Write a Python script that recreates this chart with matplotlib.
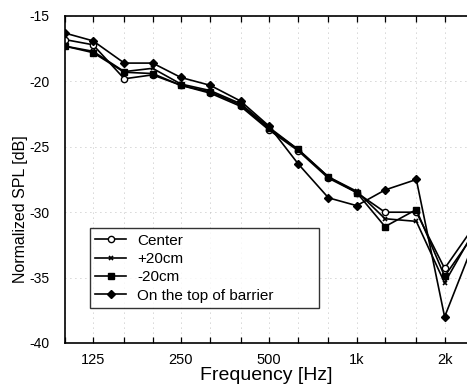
import matplotlib
matplotlib.use("Agg")
import matplotlib.pyplot as plt
from matplotlib.ticker import FixedLocator, NullFormatter

plt.rcParams["font.family"] = ["Liberation Sans", "DejaVu Sans"]

# 1/3-octave band centre frequencies [Hz]
freqs = [100, 125, 160, 200, 250, 315, 400, 500, 630, 800, 1000, 1250, 1600, 2000, 2500]

# Normalized SPL [dB] per microphone position
center = [-16.8, -17.2, -19.8, -19.5, -20.3, -20.9, -21.9, -23.7, -25.3, -27.4,
          -28.5, -30.0, -30.0, -34.3, -31.2]
plus20 = [-17.3, -17.7, -19.25, -19.0, -20.2, -20.7, -21.7, -23.5, -25.2, -27.3,
          -28.4, -30.5, -30.7, -35.4, -31.6]
minus20 = [-17.3, -17.8, -19.3, -19.4, -20.3, -20.8, -21.8, -23.6, -25.2, -27.3,
           -28.5, -31.1, -29.8, -34.9, -31.8]
top_barrier = [-16.3, -16.9, -18.6, -18.6, -19.7, -20.3, -21.5, -23.4, -26.3, -28.9,
               -29.5, -28.3, -27.5, -38.0, -32.5]

tick_freqs = [125, 250, 500, 1000, 2000]
tick_labels = ["125", "250", "500", "1k", "2k"]

W, H = 467, 386
fig = plt.figure(figsize=(W / 100, H / 100), dpi=100)
left, right, top, bottom = 64.7, 467, 16, 343
ax = fig.add_axes([left / W, (H - bottom) / H, (right - left) / W, (bottom - top) / H])

ax.set_xscale("log")
ax.set_xlim(100, 2386)
ax.set_ylim(-40, -15)

style = dict(color="black", linewidth=1.2)
ax.plot(freqs, center, marker="o", markersize=4.5, markerfacecolor="white",
        markeredgewidth=1.0, label="Center", **style)
ax.plot(freqs, plus20, marker="x", markersize=3.5, markeredgewidth=1.2,
        label="+20cm", **style)
ax.plot(freqs, minus20, marker="s", markersize=4.5, label="-20cm", **style)
ax.plot(freqs, top_barrier, marker="D", markersize=4.5, label="On the top of barrier", **style)

# axes decoration
ax.xaxis.set_major_locator(FixedLocator(tick_freqs))
ax.set_xticklabels(tick_labels)
ax.xaxis.set_minor_locator(FixedLocator(freqs))
ax.xaxis.set_minor_formatter(NullFormatter())
ax.set_yticks([-40, -35, -30, -25, -20, -15])
ax.set_yticklabels(["-40", "-35", "-30", "-25", "-20", "-15"])
ax.tick_params(axis="both", which="both", direction="in", top=True, length=4,
               width=0.9, labelsize=10.5)
ax.tick_params(axis="y", which="major", length=0, labelsize=10)
ax.tick_params(axis="x", which="major", pad=7)
ax.tick_params(axis="y", which="major", pad=11)

grid = dict(color="#aaaaaa", linestyle=(0, (1, 5)), linewidth=0.6)
ax.grid(True, which="minor", axis="x", **grid)
ax.grid(True, which="major", axis="x", **grid)
ax.grid(True, which="major", axis="y", **grid)

for s in ("left", "bottom", "top"):
    ax.spines[s].set_linewidth(1.2)
ax.spines["right"].set_visible(False)

ax.set_xlabel("Frequency [Hz]", fontsize=14, labelpad=0)
ax.set_ylabel("Normalized SPL [dB]", fontsize=11.5)
ax.yaxis.set_label_coords(-0.091, 0.41)

leg = ax.legend(loc="lower left", bbox_to_anchor=(0.063, 0.107, 0.569, 0.2),
                mode="expand", fontsize=11, frameon=True, fancybox=False,
                handlelength=2.0, handletextpad=0.75, borderpad=0.35,
                labelspacing=0.28, borderaxespad=0)
leg.get_frame().set_edgecolor("black")
leg.get_frame().set_linewidth(1.0)

fig.savefig("out.png", dpi=100)
